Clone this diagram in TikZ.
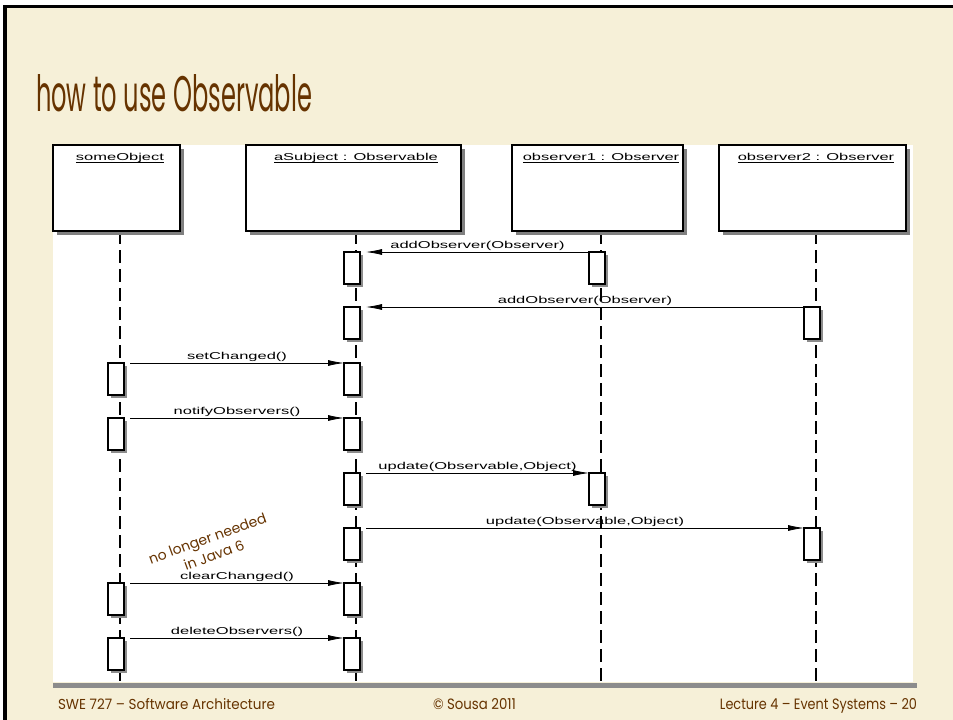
\documentclass[tikz,border=0pt]{standalone}
\usepackage{fontspec}
\usepackage{graphicx}
\usetikzlibrary{arrows.meta,calc,shadows}
\newfontfamily\diagfont[FakeStretch=1.65]{Liberation Sans}
\newfontfamily\comicfont{Poppins}
\definecolor{cream}{RGB}{246,240,216}
\definecolor{brownt}{RGB}{102,51,0}
\definecolor{rulegray}{RGB}{140,140,140}
\begin{document}
\begin{tikzpicture}[x=1pt,y=-1pt,
  every node/.style={inner sep=0pt,outer sep=0pt},
  headbox/.style={draw,line width=1.1pt,fill=white,anchor=north west,minimum height=86pt,
    drop shadow={shadow xshift=3.5pt,shadow yshift=-3.5pt,fill=black!50,opacity=1}},
  actbox/.style={draw,line width=1.1pt,fill=white,anchor=north west,minimum width=16pt,minimum height=32pt,
    drop shadow={shadow xshift=2.5pt,shadow yshift=-2.5pt,fill=black!45,opacity=1}},
  lifeline/.style={line width=1.1pt,dash pattern=on 13pt off 6pt},
  msg/.style={line width=0.8pt,-{Latex[length=16pt,width=6pt]}},
  diag/.style={font=\diagfont\fontsize{10}{12}\selectfont,text=black},
  mlabel/.style={diag,midway,above=1.5pt},
  headlabel/.style={diag,anchor=base},
  brown/.style={text=brownt,font=\comicfont},
  notetext/.style={brown,rotate=20,font=\comicfont\fontsize{14}{16}\selectfont}
]
\useasboundingbox (0,0) rectangle (953,720);
% slide background
\fill[white] (0,0) rectangle (953,720);
\fill[cream] (3,5) rectangle (953,720);
\fill[black] (3,5) rectangle (953,8);
\fill[black] (3,5) rectangle (7,720);
% title
\node[brown,anchor=base west] (title) at (36,111.7) {\resizebox{276pt}{37pt}{how to use Observable}};
% diagram area
\fill[white] (53,145) rectangle (913,682);
\fill[rulegray] (53,683) rectangle (917,688);
% lifeline bottoms
\coordinate (ls) at (120,682);
\coordinate (la) at (356,682);
\coordinate (l1) at (601,682);
\coordinate (l2) at (816,682);
% header boxes
\node[headbox,minimum width=127pt] (hs) at (53,145) {};
\node[headbox,minimum width=215pt] (ha) at (246,145) {};
\node[headbox,minimum width=171pt] (h1) at (512,145) {};
\node[headbox,minimum width=187pt] (h2) at (719,145) {};
% lifelines
\draw[lifeline] (hs.south -| ls) -- (ls);
\draw[lifeline] (ha.south -| la) -- (la);
\draw[lifeline] (h1.south -| l1) -- (l1);
\draw[lifeline] (h2.south -| l2) -- (l2);
% redraw header boxes on top of lifeline starts
\node[headbox,minimum width=127pt] at (53,145) {};
\node[headbox,minimum width=215pt] at (246,145) {};
\node[headbox,minimum width=171pt] at (512,145) {};
\node[headbox,minimum width=187pt] at (719,145) {};
% header labels
\node[headlabel] (ts) at (120,160) {someObject};
\node[headlabel] (ta) at (356,160) {aSubject : Observable};
\node[headlabel] (t1) at (601,160) {observer1 : Observer};
\node[headlabel] (t2) at (816,160) {observer2 : Observer};
\foreach \t in {ts,ta,t1,t2}{
  \draw[line width=0.6pt] ($(\t.base west)+(0,2.5)$) -- ($(\t.base east)+(0,2.5)$);
}
% activations: aSubject
\node[actbox] (s1) at (344,252) {};
\node[actbox] (s2) at (344,307) {};
\node[actbox] (s3) at (344,363) {};
\node[actbox] (s4) at (344,418) {};
\node[actbox] (s5) at (344,473) {};
\node[actbox] (s6) at (344,528) {};
\node[actbox] (s7) at (344,583) {};
\node[actbox] (s8) at (344,638) {};
% observer1
\node[actbox] (p1) at (589,252) {};
\node[actbox] (p2) at (589,473) {};
% observer2
\node[actbox] (q1) at (804,307) {};
\node[actbox] (q2) at (804,528) {};
% someObject
\node[actbox] (o1) at (108,363) {};
\node[actbox] (o2) at (108,418) {};
\node[actbox] (o3) at (108,583) {};
\node[actbox] (o4) at (108,638) {};
% messages
\draw[msg] (p1.north west) -- ($(s1.north east)+(6,0)$) node[mlabel] (m1) {addObserver(Observer)};
\draw[msg] (q1.north west) -- ($(s2.north east)+(6,0)$) node[mlabel] (m2) {addObserver(Observer)};
\draw[msg] ($(o1.north east)+(6,0)$) -- (s3.north west) node[mlabel] (m3) {setChanged()};
\draw[msg] ($(o2.north east)+(6,0)$) -- (s4.north west) node[mlabel] (m4) {notifyObservers()};
\draw[msg] ($(s5.north east)+(6,0)$) -- (p2.north west) node[mlabel] (m5) {update(Observable,Object)};
\draw[msg] ($(s6.north east)+(6,0)$) -- (q2.north west) node[mlabel] (m6) {update(Observable,Object)};
\draw[msg] ($(o3.north east)+(6,0)$) -- (s7.north west) node[mlabel] (m7) {clearChanged()};
\draw[msg] ($(o4.north east)+(6,0)$) -- (s8.north west) node[mlabel] (m8) {deleteObservers()};
% note
\node[notetext] (note1) at (208,540) {no longer needed};
\node[notetext] (note2) at (214,555) {in Java 6};
% footer
\node[brown,anchor=base west] (f1) at (58,709.3) {\resizebox{217pt}{11pt}{SWE 727 – Software Architecture}};
\node[brown,anchor=base west] (f2) at (433,709.3) {\resizebox{83pt}{11pt}{© Sousa 2011}};
\node[brown,anchor=base east] (f3) at (917,709.3) {\resizebox{197pt}{11pt}{Lecture 4 – Event Systems – 20}};
\end{tikzpicture}
\end{document}
